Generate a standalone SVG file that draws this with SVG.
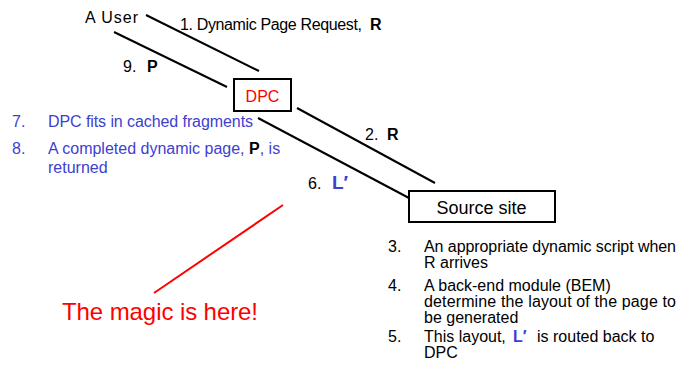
<svg xmlns="http://www.w3.org/2000/svg" width="680" height="385" viewBox="0 0 680 385">
<style>
text{font-family:"Liberation Sans",Arial,sans-serif;font-size:16px;}
.k{fill:#000;}
.b{fill:#4040d0;}
.r{fill:#ff0000;}
.ln{stroke:#000;stroke-width:2;fill:none;}
.box{fill:#fff;stroke:#000;stroke-width:2;}
.bold{font-weight:bold;}
</style>
<rect width="680" height="385" fill="#fff"/>
<g id="connectors">
<line class="ln" x1="146" y1="15" x2="259" y2="71"/>
<line class="ln" x1="114" y1="32" x2="227" y2="87"/>
<line class="ln" x1="297" y1="108" x2="435" y2="183"/>
<line class="ln" x1="258" y1="118" x2="409" y2="198"/>
<line stroke="#ff0000" stroke-width="2" x1="283" y1="205" x2="154" y2="293"/>
</g>
<g id="user">
<text x="85" y="23" font-size="17" letter-spacing="1" class="k">A User</text>
</g>
<g id="dpc">
<rect class="box" x="234" y="79" width="57" height="32"/>
<text x="262.5" y="102" text-anchor="middle" class="r">DPC</text>
</g>
<g id="source">
<rect class="box" x="409" y="191" width="146" height="31"/>
<text x="481.5" y="214" style="font-size:18px" text-anchor="middle" class="k">Source site</text>
</g>
<g id="labels" class="k">
<text x="180" y="30" textLength="182">1. Dynamic Page Request,</text>
<text x="370" y="30" class="bold">R</text>
<text x="123" y="72">9.</text>
<text x="147" y="72" class="bold">P</text>
<text x="365" y="140">2.</text>
<text x="387" y="140" class="bold">R</text>
<text x="308" y="189">6.</text>
<text x="332" y="189" class="bold b" style="font-size:19px">L′</text>
</g>
<g id="left-notes" class="b">
<text x="12" y="127">7.</text>
<text x="48" y="127" textLength="205">DPC fits in cached fragments</text>
<text x="12" y="154">8.</text>
<text x="48" y="154">A completed dynamic page,  <tspan class="bold k">P</tspan>, is</text>
<text x="48" y="173">returned</text>
</g>
<g id="right-notes" class="k">
<text x="388" y="252">3.</text>
<text x="424" y="252" textLength="252">An appropriate dynamic script when</text>
<text x="424" y="268">R arrives</text>
<text x="388" y="291">4.</text>
<text x="424" y="291">A back-end module (BEM)</text>
<text x="424" y="307" textLength="252">determine the layout of the page to</text>
<text x="424" y="323">be generated</text>
<text x="388" y="342">5.</text>
<text x="424" y="342">This layout,</text>
<text x="513" y="342" class="bold b">L′</text>
<text x="537" y="342">is routed back to</text>
<text x="424" y="358">DPC</text>
</g>
<g id="magic">
<text x="62" y="320" style="font-size:24px" textLength="196" class="r">The magic is here!</text>
</g>
</svg>
